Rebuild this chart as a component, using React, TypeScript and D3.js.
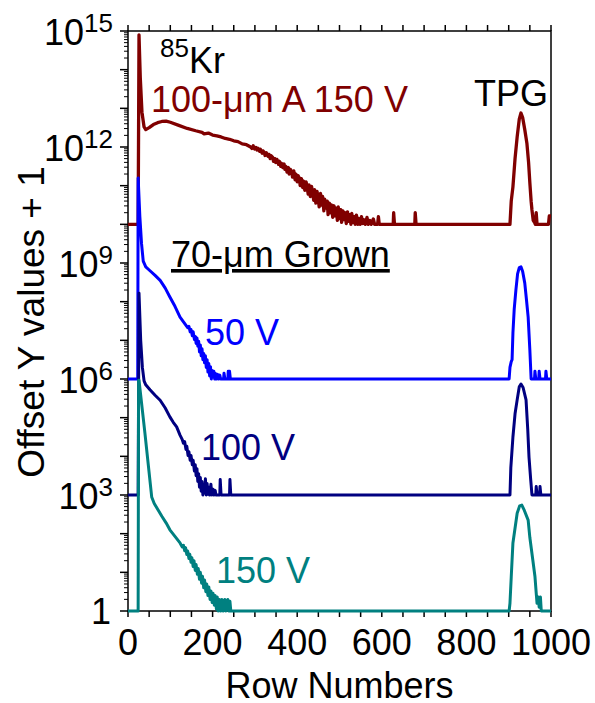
import React from 'react';
import * as d3 from 'd3';

// ---- Data: [row number, log10(offset Y value + 1)] ----
const xTickValues = [0, 200, 400, 600, 800, 1000];
const yTickExponents = [0, 3, 6, 9, 12, 15];

const kr100A150V: [number, number][] = [
  [0, 10], [24, 10], [26, 14.9], [29, 13.8], [33, 12.9], [38, 12.52], [42, 12.45], [50, 12.5], [60, 12.58],
  [70, 12.63], [80, 12.66], [90, 12.67], [100, 12.64], [120, 12.56], [140, 12.48], [160, 12.42], [175, 12.38],
  [180, 12.34], [190, 12.36], [200, 12.31], [210, 12.29], [220, 12.26], [230, 12.22], [240, 12.2], [250, 12.16],
  [260, 12.14], [270, 12.08], [280, 12.06], [290, 12.0], [293, 11.96], [296, 12.03], [299, 11.95], [302, 11.99],
  [305, 11.92], [307, 11.97], [311, 11.89], [313, 11.94], [317, 11.84], [319, 11.9], [322, 11.86], [324, 11.78],
  [327, 11.85], [331, 11.76], [333, 11.81], [336, 11.7], [338, 11.78], [342, 11.73], [344, 11.63], [347, 11.7],
  [349, 11.6], [352, 11.68], [356, 11.55], [358, 11.63], [361, 11.5], [363, 11.58], [366, 11.47], [369, 11.56],
  [371, 11.42], [373, 11.5], [376, 11.35], [379, 11.47], [381, 11.3], [384, 11.42], [387, 11.36], [389, 11.22],
  [392, 11.38], [395, 11.15], [397, 11.3], [400, 11.1], [402, 11.26], [405, 11.2], [407, 11.0], [410, 11.18],
  [413, 10.95], [415, 11.12], [418, 10.88], [421, 11.1], [423, 11.0], [426, 10.78], [428, 11.02], [431, 10.72],
  [434, 10.98], [436, 10.85], [439, 10.62], [441, 10.9], [444, 10.55], [447, 10.85], [449, 10.7], [452, 10.45],
  [455, 10.8], [457, 10.5], [460, 10.72], [463, 10.35], [465, 10.65], [468, 10.42], [471, 10.6], [473, 10.25],
  [476, 10.55], [479, 10.3], [481, 10.5], [484, 10.18], [487, 10.48], [489, 10.22], [492, 10.42], [495, 10.1],
  [497, 10.45], [500, 10.15], [503, 10.38], [505, 10.05], [508, 10.35], [511, 10.12], [513, 10.3], [516, 10.02],
  [519, 10.32], [521, 10.08], [524, 10.25], [527, 10.0], [529, 10.28], [532, 10.05], [535, 10.2], [537, 10.0],
  [540, 10.24], [543, 10.0], [546, 10.15], [549, 10.0], [552, 10.2], [555, 10.02], [558, 10.12], [561, 10.0],
  [565, 10.18], [568, 10.0], [572, 10.1], [575, 10.0], [580, 10.14], [583, 10.0], [590, 10.0], [592, 10.2],
  [594, 10.0], [627, 10.0], [628, 10.3], [630, 10.0], [678, 10.0], [679, 10.3], [681, 10.0], [903, 10.0],
  [906, 10.6], [910, 10.97], [915, 11.7], [920, 12.26], [925, 12.72], [929, 12.88], [933, 12.76], [938, 12.45],
  [943, 12.1], [947, 11.6], [950, 11.07], [953, 10.6], [955, 10.37], [958, 10.1], [962, 10.03], [963, 10.0],
  [965, 10.3], [967, 10.0], [994, 10.0], [996, 10.22], [1000, 10.22],
];

const grown70_50V: [number, number][] = [
  [0, 6], [23, 6], [24, 11.2], [28, 10.2], [32, 9.5], [36, 9.05], [42, 8.9], [52, 8.8], [64, 8.68], [76, 8.55],
  [88, 8.35], [99, 8.12], [111, 7.88], [123, 7.6], [135, 7.42], [141, 7.33], [144, 7.36], [147, 7.22],
  [149, 7.28], [152, 7.12], [154, 7.22], [157, 7.02], [159, 7.1], [161, 6.92], [163, 7.06], [165, 6.85],
  [167, 6.98], [169, 6.7], [171, 6.88], [173, 6.6], [175, 6.78], [177, 6.5], [179, 6.66], [181, 6.42],
  [183, 6.6], [185, 6.3], [187, 6.5], [189, 6.18], [191, 6.4], [193, 6.08], [195, 6.32], [197, 6.0],
  [199, 6.22], [201, 6.05], [203, 6.2], [205, 6.0], [207, 6.14], [209, 6.0], [212, 6.12], [214, 6.0],
  [217, 6.1], [219, 6.0], [226, 6.0], [227, 6.15], [229, 6.0], [236, 6.0], [237, 6.2], [239, 6.0],
  [240, 6.2], [242, 6.0], [901, 6.0], [903, 6.3], [906, 6.45], [908, 6.5], [910, 7.19], [913, 7.8], [917, 8.3],
  [921, 8.72], [925, 8.88], [929, 8.9], [933, 8.78], [938, 8.48], [942, 8.05], [946, 7.6], [950, 6.75], [953, 6.0],
  [961, 6.0], [962, 6.2], [964, 6.0], [971, 6.0], [972, 6.2], [974, 6.0], [987, 6.0], [988, 6.2], [990, 6.0],
  [1000, 6.0],
];

const grown70_100V: [number, number][] = [
  [0, 3], [24, 3], [26, 8.22], [30, 7.0], [34, 6.3], [38, 5.95], [42, 5.85], [52, 5.72], [64, 5.58], [76, 5.45],
  [88, 5.25], [99, 5.02], [107, 4.88], [115, 4.76], [123, 4.55], [128, 4.44], [131, 4.34], [134, 4.38],
  [137, 4.18], [139, 4.26], [142, 4.02], [144, 4.12], [147, 3.9], [149, 4.02], [152, 3.78], [154, 3.9],
  [157, 3.62], [159, 3.78], [161, 3.5], [163, 3.68], [165, 3.35], [167, 3.55], [169, 3.2], [171, 3.45],
  [173, 3.1], [175, 3.35], [177, 3.0], [179, 3.25], [181, 3.05], [183, 3.42], [185, 3.0], [187, 3.3],
  [189, 3.02], [191, 3.2], [193, 3.0], [196, 3.28], [198, 3.0], [201, 3.15], [203, 3.0], [206, 3.12],
  [208, 3.0], [217, 3.0], [218, 3.4], [220, 3.0], [240, 3.0], [241, 3.4], [243, 3.0], [903, 3.0],
  [905, 3.7], [910, 4.5], [915, 5.1], [920, 5.46], [925, 5.8], [929, 5.87], [934, 5.78], [941, 5.46], [945, 4.7],
  [948, 3.98], [952, 3.4], [955, 3.0], [964, 3.0], [965, 3.22], [967, 3.0], [973, 3.0], [974, 3.22], [976, 3.0],
  [1000, 3.0],
];

const grown70_150V: [number, number][] = [
  [0, 0], [24, 0], [25, 5.97], [26, 5.97], [40, 4.6], [56, 2.95], [62, 2.78], [68, 2.67], [80, 2.45], [90, 2.28],
  [99, 2.1], [111, 1.93], [123, 1.76], [128, 1.66], [131, 1.7], [134, 1.56], [136, 1.64], [139, 1.46],
  [141, 1.55], [144, 1.36], [146, 1.47], [149, 1.26], [151, 1.38], [154, 1.15], [156, 1.3], [159, 1.05],
  [161, 1.2], [164, 0.95], [166, 1.1], [169, 0.82], [171, 1.0], [174, 0.72], [176, 0.9], [179, 0.6],
  [181, 0.8], [184, 0.5], [186, 0.7], [189, 0.4], [191, 0.62], [194, 0.3], [196, 0.52], [199, 0.22],
  [201, 0.46], [204, 0.15], [206, 0.4], [209, 0.05], [211, 0.36], [213, 0.0], [216, 0.3], [219, 0.0],
  [222, 0.3], [225, 0.0], [229, 0.3], [231, 0.0], [236, 0.3], [238, 0.0], [241, 0.25], [243, 0.0],
  [901, 0.0], [903, 0.2], [906, 0.88], [910, 1.76], [920, 2.53], [926, 2.72], [931, 2.74], [937, 2.6],
  [946, 2.35], [950, 1.9], [957, 1.32], [962, 0.9], [965, 0.47], [967, 0.2], [970, 0.36], [972, 0.1],
  [975, 0.36], [977, 0.0], [1000, 0.0],
];

const seriesList = [
  { data: kr100A150V, color: '#800000', width: 3.3 },
  { data: grown70_50V, color: '#0000ff', width: 3 },
  { data: grown70_100V, color: '#000080', width: 3 },
  { data: grown70_150V, color: '#008080', width: 3 },
];

const W = 595;
const H = 703;
const FONT = "'Liberation Sans', Arial, Helvetica, sans-serif";

export default function App() {
  const x = d3.scaleLinear().domain([0, 1000]).range([128, 551]);
  const y = d3.scaleLog().domain([1, 1e15]).range([611, 31]);
  const line = d3
    .line<[number, number]>()
    .x((d) => x(d[0]))
    .y((d) => y(Math.pow(10, d[1])));

  const xMinor = d3.range(0, 1001, 50);
  const yMinor: number[] = [];
  for (let e = 0; e < 15; e++) for (let k = 2; k <= 9; k++) yMinor.push(k * Math.pow(10, e));

  const [x0, x1] = x.range();
  const [yb, yt] = y.range();

  return (
    <svg width={W} height={H} style={{ position: 'absolute', left: 0, top: 0, background: '#fff' }} fontFamily={FONT}>
      <rect x={0} y={0} width={W} height={H} fill="#fff" />
      {/* frame */}
      <rect x={x0} y={yt} width={x1 - x0} height={yb - yt} fill="none" stroke="#000" strokeWidth={1.5} />
      {/* bottom & top ticks */}
      {xMinor.map((v) => (
        <g key={'xt' + v}>
          <line x1={x(v)} x2={x(v)} y1={yb} y2={yb + 6} stroke="#000" strokeWidth={1.5} />
          <line x1={x(v)} x2={x(v)} y1={yt} y2={yt - 6} stroke="#000" strokeWidth={1.5} />
        </g>
      ))}
      {/* left ticks */}
      {yMinor.map((v, i) => (
        <line key={'ym' + i} x1={x0} x2={x0 - 4} y1={y(v)} y2={y(v)} stroke="#000" strokeWidth={1} />
      ))}
      {d3.range(0, 16).map((e) => (
        <line key={'yM' + e} x1={x0} x2={x0 - 8} y1={y(Math.pow(10, e))} y2={y(Math.pow(10, e))} stroke="#000" strokeWidth={1.5} />
      ))}
      {/* x tick labels */}
      {xTickValues.map((v) => (
        <text key={'xl' + v} x={x(v)} y={655} fontSize={36} textAnchor="middle" fill="#000">
          {v}
        </text>
      ))}
      {/* y tick labels */}
      {yTickExponents.map((e) => {
        const py = y(Math.pow(10, e));
        if (e === 0)
          return (
            <text key={'yl' + e} x={111} y={py + 13} fontSize={36} textAnchor="end" fill="#000">
              1
            </text>
          );
        return (
          <text key={'yl' + e} x={113} y={py + 14} fontSize={36} textAnchor="end" fill="#000">
            10
            <tspan fontSize={26} dy={-13}>
              {e}
            </tspan>
          </text>
        );
      })}
      {/* axis titles */}
      <text x={339.5} y={698} fontSize={36} textAnchor="middle" fill="#000">
        Row Numbers
      </text>
      <text transform="translate(44,322) rotate(-90)" fontSize={37} textAnchor="middle" fill="#000">
        Offset Y values + 1
      </text>
      {/* series */}
      {seriesList.map((s, i) => (
        <path key={'s' + i} d={line(s.data) || ''} fill="none" stroke={s.color} strokeWidth={s.width} strokeLinejoin="round" />
      ))}
      {/* annotations */}
      <text x={160} y={57} fontSize={26} fill="#000">85</text>
      <text x={189} y={73} fontSize={36} fill="#000">Kr</text>
      <text x={151} y={112} fontSize={36} fill="#800000">100-μm A 150 V</text>
      <text x={548} y={106} fontSize={36} textAnchor="end" fill="#000">TPG</text>
      <text x={171} y={267} fontSize={36} fill="#000" style={{ textDecoration: 'underline' }}>70-μm Grown</text>
      <text x={205} y={345} fontSize={36} fill="#0000ff">50 V</text>
      <text x={201} y={460} fontSize={36} fill="#000080">100 V</text>
      <text x={216} y={583} fontSize={36} fill="#008080">150 V</text>
    </svg>
  );
}
